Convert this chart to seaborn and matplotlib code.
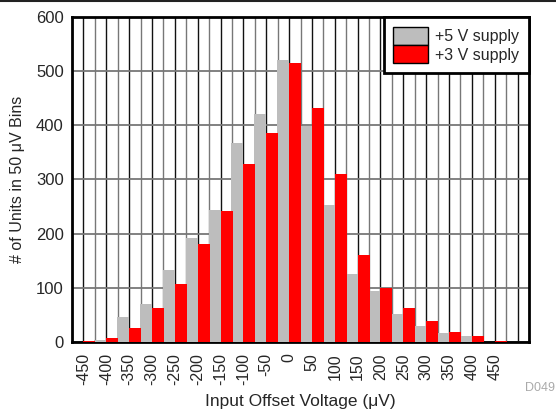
import matplotlib
matplotlib.use("Agg")
import matplotlib.pyplot as plt
import seaborn as sns
import pandas as pd
import numpy as np
from matplotlib.patches import Patch
from matplotlib.lines import Line2D
from matplotlib.ticker import MultipleLocator, FixedLocator

bins = ["-450", "-400", "-350", "-300", "-250", "-200", "-150", "-100", "-50", "0",
        "50", "100", "150", "200", "250", "300", "350", "400", "450", "500"]
tick_labels = bins[:-1] + [""]
supply_5v = [0, 4, 47, 71, 133, 192, 243, 367, 420, 521,
             399, 253, 126, 94, 51, 30, 17, 12, 0, 0]
supply_3v = [1, 7, 25, 62, 107, 181, 241, 328, 386, 515,
             432, 310, 161, 99, 62, 38, 18, 12, 1, 0]
series = ["+5 V supply", "+3 V supply"]
colors = {"+5 V supply": "#bdbdbd", "+3 V supply": "#ff0000"}

df = pd.DataFrame({
    "bin": bins * 2,
    "count": supply_5v + supply_3v,
    "series": [series[0]] * len(bins) + [series[1]] * len(bins),
})

sns.set_style("white")
plt.rcParams["font.family"] = ["Liberation Sans", "DejaVu Sans"]

fig = plt.figure(figsize=(5.56, 4.12), dpi=100)
ax = fig.add_axes([72 / 556, (412 - 342) / 412, (529 - 72) / 556, (342 - 17) / 412])

sns.barplot(data=df, x="bin", y="count", hue="series", order=bins, hue_order=series,
            palette=colors, width=1.05, ax=ax, legend=False, saturation=1,
            edgecolor="none", linewidth=0, zorder=3)

ax.set_xlim(-0.5, len(bins) - 0.5)
ax.set_ylim(0, 600)
ax.yaxis.set_major_locator(MultipleLocator(100))
ax.xaxis.set_major_locator(FixedLocator(np.arange(len(bins))))
ax.xaxis.set_minor_locator(FixedLocator(np.arange(len(bins) + 1) - 0.5))
ax.set_xticklabels(tick_labels, rotation=90, fontsize=11.5)
ax.tick_params(axis="y", labelsize=12, length=0, pad=6)
ax.tick_params(axis="x", which="both", length=0, pad=8)

ax.set_axisbelow(True)
ax.grid(axis="x", which="major", color="#111111", lw=1.0, zorder=0)
ax.grid(axis="x", which="minor", color="#777777", lw=1.0, zorder=0)
ax.grid(axis="y", which="major", color="#777777", lw=1.3, zorder=0)

for s in ax.spines.values():
    s.set_visible(True)
    s.set_color("black")
    s.set_linewidth(2)

ax.set_xlabel("Input Offset Voltage (μV)", fontsize=12.5, labelpad=6)
ax.set_ylabel("# of Units in 50 μV Bins", fontsize=11.5, labelpad=8)

handles = [Patch(facecolor=colors[s], edgecolor="black", lw=1) for s in series]
leg = ax.legend(handles, series, loc="upper right", borderaxespad=0, fancybox=False,
                framealpha=1, fontsize=11.5, handlelength=2.2, handleheight=1.4,
                labelspacing=0, handletextpad=0.45, borderpad=0.6)
leg.get_frame().set_edgecolor("black")
leg.get_frame().set_linewidth(2)
leg.set_zorder(10)

fig.add_artist(Line2D([0, 1], [0.998, 0.998], transform=fig.transFigure,
                      color="#222222", lw=1.5))
fig.text(540 / 556, 1 - 388 / 412, "D049", color="#aaaaaa", fontsize=9,
         ha="center", va="center")

fig.savefig("out.png", dpi=100)
